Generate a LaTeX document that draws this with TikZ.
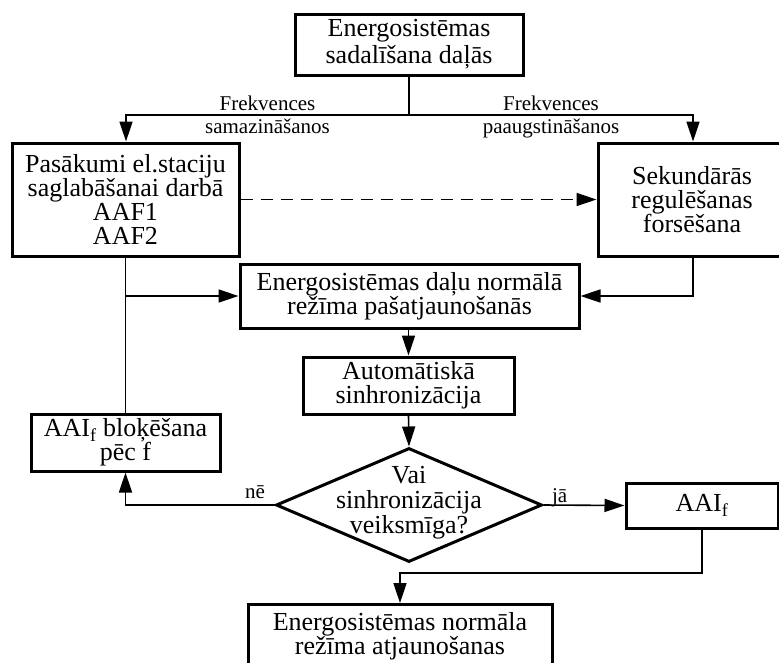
\documentclass[tikz,border=0pt]{standalone}
\usepackage{fontspec}
\setmainfont{Liberation Serif}
\usetikzlibrary{arrows.meta,shapes.geometric}

\begin{document}
\begin{tikzpicture}[x=1pt,y=-1pt,>={Triangle[length=20pt,width=13pt]},
  font=\fontsize{26}{24}\selectfont,
  frame/.style={draw,line width=3pt,inner sep=0pt,align=center},
  decision/.style={draw,diamond,line width=3pt,inner sep=0pt,
    minimum width=266pt,minimum height=114pt},
  flow/.style={->,line width=1.6pt},
  tag/.style={font=\fontsize{21}{22}\selectfont,inner sep=3pt}]
\useasboundingbox (0,0) rectangle (779,662);
\fill[white] (0,0) rectangle (779,662);
\clip (0,0) rectangle (779,662);

% boxes
\node[frame,minimum width=228pt,minimum height=61pt,
  font=\fontsize{26}{26.7}\selectfont] (split) at (409,44.5)
  {Energosistēmas\\sadalīšana daļās};
\node[frame,minimum width=227pt,minimum height=113pt] (save) at (125.5,199.5)
  {Pasākumi el.staciju\\saglabāšanai darbā\\AAF1\\AAF2};
\node[frame,minimum width=188pt,minimum height=113pt] (boost) at (692,199.5)
  {Sekundārās\\regulēšanas\\forsēšana};
\node[frame,minimum width=339pt,minimum height=64pt] (parts) at (409.5,296)
  {Energosistēmas daļu normālā\\režīma pašatjaunošanās};
\node[frame,minimum width=211pt,minimum height=57pt] (sync) at (408.5,385.5)
  {Automātiskā\\sinhronizācija};
\node[decision] (check) at (409,505) {};
\node[align=center,font=\fontsize{26}{25}\selectfont] (checktxt) at (409,503)
  {Vai\\sinhronizācija\\veiksmīga?};
\node[frame,minimum width=189pt,minimum height=57pt] (block) at (125.5,442.5)
  {AAI\textsubscript{f} bloķēšana\\pēc f};
\node[frame,minimum width=152pt,minimum height=45pt] (aai) at (702,505.5)
  {AAI\textsubscript{f}};
\node[frame,anchor=north,minimum width=304pt,inner ysep=8pt] (final) at (400,603)
  {Energosistēmas normāla\\režīma atjaunošanas};

% connectors
\coordinate (fork) at (409,115);
\coordinate (forkL) at (126,115);
\coordinate (forkR) at (693,115);
\coordinate (bend) at (702,573);
\draw[line width=1.6pt] (split.south) -- (fork);
\draw[flow] (fork) -- node[tag,above] {Frekvences} node[tag,below] {samazināšanos}
  (forkL) -- (forkL |- save.north);
\draw[flow] (fork) -- node[tag,above] {Frekvences} node[tag,below] {paaugstināšanos}
  (forkR) -- (forkR |- boost.north);
\draw[flow,dash pattern=on 12pt off 8pt] (save.east) -- (boost.west);
\draw[line width=1.6pt] (save.south) -- (block.north);
\draw[flow] (save.south |- parts.west) -- (parts.west);
\draw[flow] (forkR |- boost.south) |- (parts.east);
\draw[flow] (parts.south -| sync.north) -- (sync.north);
\draw[flow] (sync.south) -- (check.north);
\draw[flow] (check.west) -| node[tag,pos=0.065,anchor=base,yshift=7pt] {nē} (block.south);
\draw[flow] (check.east) -- node[tag,pos=0.2,anchor=base,yshift=3pt] {jā} (aai.west);
\draw[flow] (aai.south) -- (bend) -| (final.north);
\end{tikzpicture}
\end{document}
